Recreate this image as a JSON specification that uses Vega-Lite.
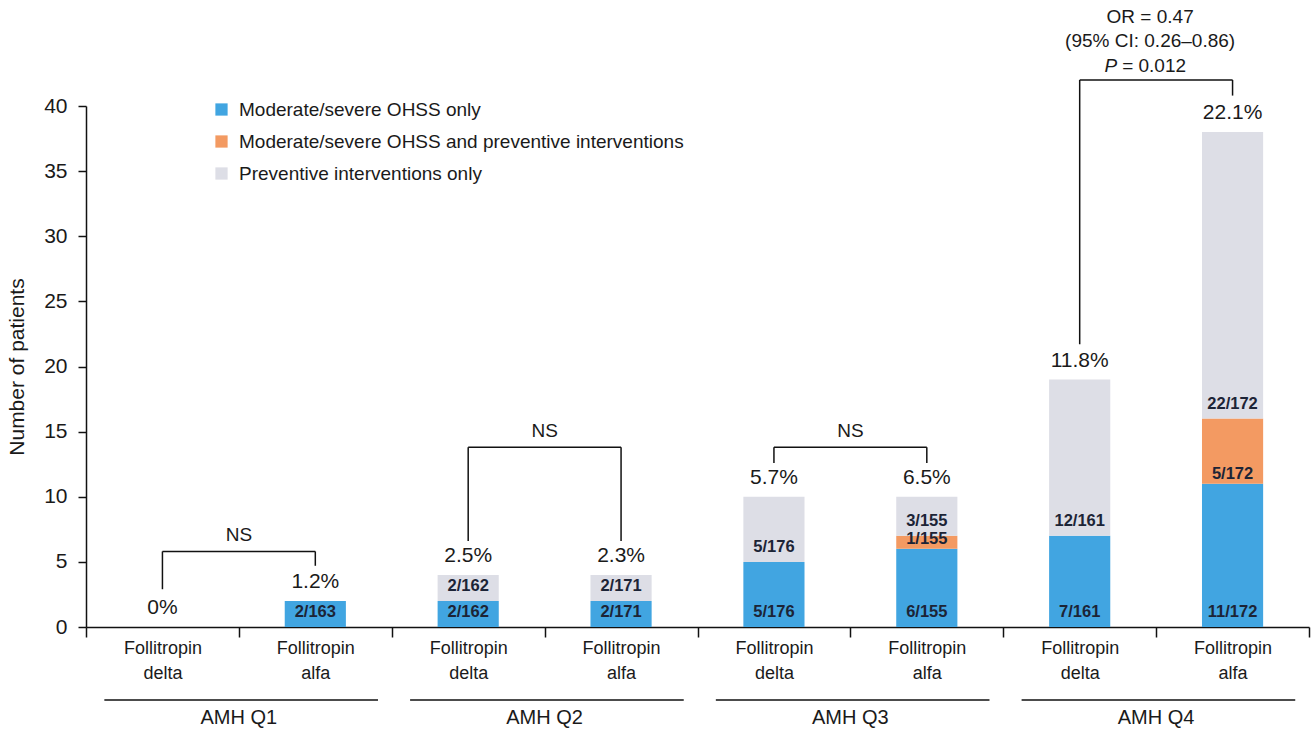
{
  "$schema": "https://vega.github.io/schema/vega-lite/v6.json",
  "width": 1223,
  "height": 521,
  "autosize": {"type": "none"},
  "padding": {"left": 86, "top": 106, "right": 5, "bottom": 106},
  "background": "white",
  "config": {"font": "Liberation Sans", "view": {"stroke": null}},
  "datasets": {
    "segments": [
      {"bar": "Q1 alfa", "type": "Moderate/severe OHSS only", "rank": 1, "count": 2, "label": "2/163"},
      {"bar": "Q2 delta", "type": "Moderate/severe OHSS only", "rank": 1, "count": 2, "label": "2/162"},
      {"bar": "Q2 delta", "type": "Preventive interventions only", "rank": 3, "count": 2, "label": "2/162"},
      {"bar": "Q2 alfa", "type": "Moderate/severe OHSS only", "rank": 1, "count": 2, "label": "2/171"},
      {"bar": "Q2 alfa", "type": "Preventive interventions only", "rank": 3, "count": 2, "label": "2/171"},
      {"bar": "Q3 delta", "type": "Moderate/severe OHSS only", "rank": 1, "count": 5, "label": "5/176"},
      {"bar": "Q3 delta", "type": "Preventive interventions only", "rank": 3, "count": 5, "label": "5/176"},
      {"bar": "Q3 alfa", "type": "Moderate/severe OHSS only", "rank": 1, "count": 6, "label": "6/155"},
      {"bar": "Q3 alfa", "type": "Moderate/severe OHSS and preventive interventions", "rank": 2, "count": 1, "label": "1/155"},
      {"bar": "Q3 alfa", "type": "Preventive interventions only", "rank": 3, "count": 3, "label": "3/155"},
      {"bar": "Q4 delta", "type": "Moderate/severe OHSS only", "rank": 1, "count": 7, "label": "7/161"},
      {"bar": "Q4 delta", "type": "Preventive interventions only", "rank": 3, "count": 12, "label": "12/161"},
      {"bar": "Q4 alfa", "type": "Moderate/severe OHSS only", "rank": 1, "count": 11, "label": "11/172"},
      {"bar": "Q4 alfa", "type": "Moderate/severe OHSS and preventive interventions", "rank": 2, "count": 5, "label": "5/172"},
      {"bar": "Q4 alfa", "type": "Preventive interventions only", "rank": 3, "count": 22, "label": "22/172"}
    ],
    "totals": [
      {"bar": "Q1 delta", "total": 0, "pct": "0%"},
      {"bar": "Q1 alfa", "total": 2, "pct": "1.2%"},
      {"bar": "Q2 delta", "total": 4, "pct": "2.5%"},
      {"bar": "Q2 alfa", "total": 4, "pct": "2.3%"},
      {"bar": "Q3 delta", "total": 10, "pct": "5.7%"},
      {"bar": "Q3 alfa", "total": 10, "pct": "6.5%"},
      {"bar": "Q4 delta", "total": 19, "pct": "11.8%"},
      {"bar": "Q4 alfa", "total": 38, "pct": "22.1%"}
    ],
    "brackets": [
      {"from": "Q1 delta", "to": "Q1 alfa", "top": 5.8, "leftEnd": 2.9, "rightEnd": 4.7, "label": "NS"},
      {"from": "Q2 delta", "to": "Q2 alfa", "top": 13.8, "leftEnd": 6.6, "rightEnd": 6.6, "label": "NS"},
      {"from": "Q3 delta", "to": "Q3 alfa", "top": 13.8, "leftEnd": 12.6, "rightEnd": 12.6, "label": "NS"},
      {"from": "Q4 delta", "to": "Q4 alfa", "top": 42.0, "leftEnd": 21.7, "rightEnd": 40.8, "label": ""}
    ],
    "groups": [
      {"group": "AMH Q1", "first": "Q1 delta", "second": "Q1 alfa"},
      {"group": "AMH Q2", "first": "Q2 delta", "second": "Q2 alfa"},
      {"group": "AMH Q3", "first": "Q3 delta", "second": "Q3 alfa"},
      {"group": "AMH Q4", "first": "Q4 delta", "second": "Q4 alfa"}
    ]
  },
  "layer": [
    {
      "data": {"name": "segments"},
      "transform": [{"stack": "count", "groupby": ["bar"], "sort": [{"field": "rank", "order": "ascending"}], "as": ["y0", "y1"]}],
      "mark": {"type": "bar", "width": {"band": 0.4}},
      "encoding": {
        "x": {
          "field": "bar", "type": "nominal", "title": null,
          "scale": {"domain": ["Q1 delta", "Q1 alfa", "Q2 delta", "Q2 alfa", "Q3 delta", "Q3 alfa", "Q4 delta", "Q4 alfa"], "padding": 0},
          "axis": {
            "title": null, "tickBand": "extent", "domainColor": "#111", "domainWidth": 1.5,
            "tickColor": "#111", "tickWidth": 1.5, "tickSize": 10,
            "labelFontSize": 18, "labelColor": "#1a1a1a", "labelLineHeight": 25, "labelPadding": 2, "labelDx": -6,
            "labelAngle": 0,
            "labelExpr": "isString(datum.value) && indexof(datum.value, ' ') > 0 ? ['Follitropin', split(datum.value, ' ')[1]] : ''"
          }
        },
        "y": {
          "field": "y0", "type": "quantitative", "title": "Number of patients",
          "scale": {"domain": [0, 40], "nice": false},
          "axis": {
            "title": "Number of patients", "values": [0, 5, 10, 15, 20, 25, 30, 35, 40], "grid": false,
            "domainColor": "#111", "domainWidth": 1.5, "tickColor": "#111", "tickWidth": 1.5, "tickSize": 8,
            "labelFontSize": 21, "labelColor": "#1a1a1a", "labelPadding": 11,
            "titleFontSize": 21, "titleFontWeight": "normal", "titleColor": "#1a1a1a", "titlePadding": 16
          }
        },
        "y2": {"field": "y1"},
        "color": {
          "field": "type", "type": "nominal",
          "scale": {
            "domain": ["Moderate/severe OHSS only", "Moderate/severe OHSS and preventive interventions", "Preventive interventions only"],
            "range": ["#41a5e1", "#f39a62", "#dddee6"]
          },
          "legend": {
            "title": null, "orient": "none", "legendX": 126, "legendY": -6, "symbolType": "square",
            "symbolSize": 150, "symbolStrokeWidth": 0, "symbolOpacity": 1, "labelFontSize": 19, "labelColor": "#1a1a1a",
            "rowPadding": 12, "labelOffset": 8, "labelLimit": 700, "padding": 0
          }
        }
      }
    },
    {
      "data": {"name": "segments"},
      "transform": [
        {"stack": "count", "groupby": ["bar"], "sort": [{"field": "rank", "order": "ascending"}], "as": ["y0", "y1"]},
        {"filter": "datum.rank !== 2"}
      ],
      "mark": {"type": "text", "baseline": "middle", "dy": -15, "fontSize": 16.5, "fontWeight": "bold", "color": "#1c2436"},
      "encoding": {
        "x": {"field": "bar", "type": "nominal", "title": null},
        "y": {"field": "y0", "type": "quantitative", "title": "Number of patients"},
        "text": {"field": "label"}
      }
    },
    {
      "data": {"name": "segments"},
      "transform": [
        {"stack": "count", "groupby": ["bar"], "sort": [{"field": "rank", "order": "ascending"}], "as": ["y0", "y1"]},
        {"filter": "datum.rank === 2"}
      ],
      "mark": {"type": "text", "baseline": "middle", "dy": -10, "fontSize": 16.5, "fontWeight": "bold", "color": "#1c2436"},
      "encoding": {
        "x": {"field": "bar", "type": "nominal", "title": null},
        "y": {"field": "y0", "type": "quantitative", "title": "Number of patients"},
        "text": {"field": "label"}
      }
    },
    {
      "data": {"name": "totals"},
      "mark": {"type": "text", "baseline": "middle", "dy": -19, "fontSize": 21, "color": "#1a1a1a"},
      "encoding": {
        "x": {"field": "bar", "type": "nominal", "title": null},
        "y": {"field": "total", "type": "quantitative", "title": "Number of patients"},
        "text": {"field": "pct"}
      }
    },
    {
      "data": {"name": "brackets"},
      "mark": {"type": "rule", "color": "#111", "strokeWidth": 1.5},
      "encoding": {
        "x": {"field": "from", "type": "nominal", "title": null},
        "x2": {"field": "to"},
        "y": {"field": "top", "type": "quantitative", "title": "Number of patients"}
      }
    },
    {
      "data": {"name": "brackets"},
      "mark": {"type": "rule", "color": "#111", "strokeWidth": 1.5},
      "encoding": {
        "x": {"field": "from", "type": "nominal", "title": null},
        "y": {"field": "top", "type": "quantitative", "title": "Number of patients"},
        "y2": {"field": "leftEnd"}
      }
    },
    {
      "data": {"name": "brackets"},
      "mark": {"type": "rule", "color": "#111", "strokeWidth": 1.5},
      "encoding": {
        "x": {"field": "to", "type": "nominal", "title": null},
        "y": {"field": "top", "type": "quantitative", "title": "Number of patients"},
        "y2": {"field": "rightEnd"}
      }
    },
    {
      "data": {"name": "brackets"},
      "mark": {"type": "text", "baseline": "middle", "dy": -16, "fontSize": 19, "color": "#1a1a1a"},
      "encoding": {
        "x": {"field": "to", "type": "nominal", "bandPosition": 0, "title": null},
        "y": {"field": "top", "type": "quantitative", "title": "Number of patients"},
        "text": {"field": "label"}
      }
    },
    {
      "data": {"name": "brackets"},
      "transform": [{"filter": "datum.to === 'Q4 alfa'"}],
      "mark": {"type": "text", "baseline": "middle", "align": "center", "dx": -6, "dy": -63, "lineHeight": 24.5, "fontSize": 19, "color": "#1a1a1a"},
      "encoding": {
        "x": {"field": "to", "type": "nominal", "bandPosition": 0, "title": null},
        "y": {"field": "top", "type": "quantitative", "title": "Number of patients"},
        "text": {"value": ["OR = 0.47", "(95% CI: 0.26\u20130.86)"]}
      }
    },
    {
      "data": {"name": "brackets"},
      "transform": [{"filter": "datum.to === 'Q4 alfa'"}],
      "mark": {"type": "text", "baseline": "middle", "align": "right", "dx": -39, "dy": -14, "fontSize": 19, "fontStyle": "italic", "color": "#1a1a1a"},
      "encoding": {
        "x": {"field": "to", "type": "nominal", "bandPosition": 0, "title": null},
        "y": {"field": "top", "type": "quantitative", "title": "Number of patients"},
        "text": {"value": "P"}
      }
    },
    {
      "data": {"name": "brackets"},
      "transform": [{"filter": "datum.to === 'Q4 alfa'"}],
      "mark": {"type": "text", "baseline": "middle", "align": "left", "dx": -34, "dy": -14, "fontSize": 19, "color": "#1a1a1a"},
      "encoding": {
        "x": {"field": "to", "type": "nominal", "bandPosition": 0, "title": null},
        "y": {"field": "top", "type": "quantitative", "title": "Number of patients"},
        "text": {"value": "= 0.012"}
      }
    },
    {
      "data": {"name": "groups"},
      "mark": {"type": "rule", "color": "#111", "strokeWidth": 1.5},
      "encoding": {
        "x": {"field": "first", "type": "nominal", "bandPosition": 0.12, "title": null},
        "x2": {"field": "second", "bandPosition": 0.91},
        "y": {"datum": -5.6, "type": "quantitative", "title": "Number of patients"}
      }
    },
    {
      "data": {"name": "groups"},
      "mark": {"type": "text", "baseline": "middle", "fontSize": 20, "color": "#1a1a1a"},
      "encoding": {
        "x": {"field": "second", "type": "nominal", "bandPosition": 0, "title": null},
        "y": {"datum": -7.0, "type": "quantitative", "title": "Number of patients"},
        "text": {"field": "group"}
      }
    }
  ]
}
